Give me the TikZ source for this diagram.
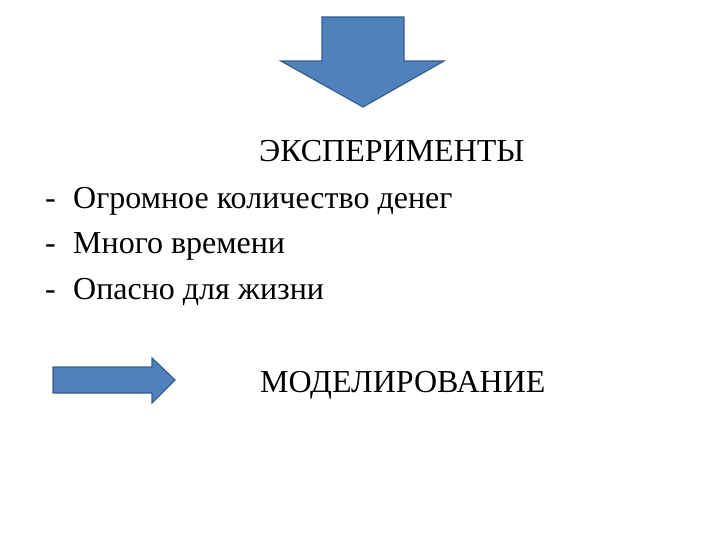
\documentclass[tikz,border=0pt]{standalone}
\usepackage{fontspec}
\setmainfont{Liberation Serif}
\definecolor{arrfill}{HTML}{4F81BD}
\definecolor{arrline}{HTML}{385D8A}
\begin{document}
\begin{tikzpicture}[x=1pt,y=-1pt,
  arr/.style={fill=arrfill,draw=arrline,line width=1.2pt,line join=miter},
  txt/.style={anchor=base west,inner sep=0pt,font=\fontsize{32}{36}\selectfont}]
\useasboundingbox (0,0) rectangle (720,540);
% down arrow
\draw[arr] (322,17) -- (404,17) -- (404,61) -- (444,61) -- (363,107) -- (281,61) -- (322,61) -- cycle;
% right arrow
\draw[arr] (53,367) -- (152,367) -- (152,358) -- (175,380) -- (152,403) -- (152,393) -- (53,393) -- cycle;
\node[txt] (t0) at (259,162) {ЭКСПЕРИМЕНТЫ};
\node[txt] (d1) at (45,208) {-};
\node[txt] (t1) at (73,208) {Огромное количество денег};
\node[txt] (d2) at (45,253) {-};
\node[txt] (t2) at (73,253) {Много времени};
\node[txt] (d3) at (45,299) {-};
\node[txt] (t3) at (73,299) {Опасно для жизни};
\node[txt] (t4) at (260,392) {МОДЕЛИРОВАНИЕ};
\end{tikzpicture}
\end{document}
